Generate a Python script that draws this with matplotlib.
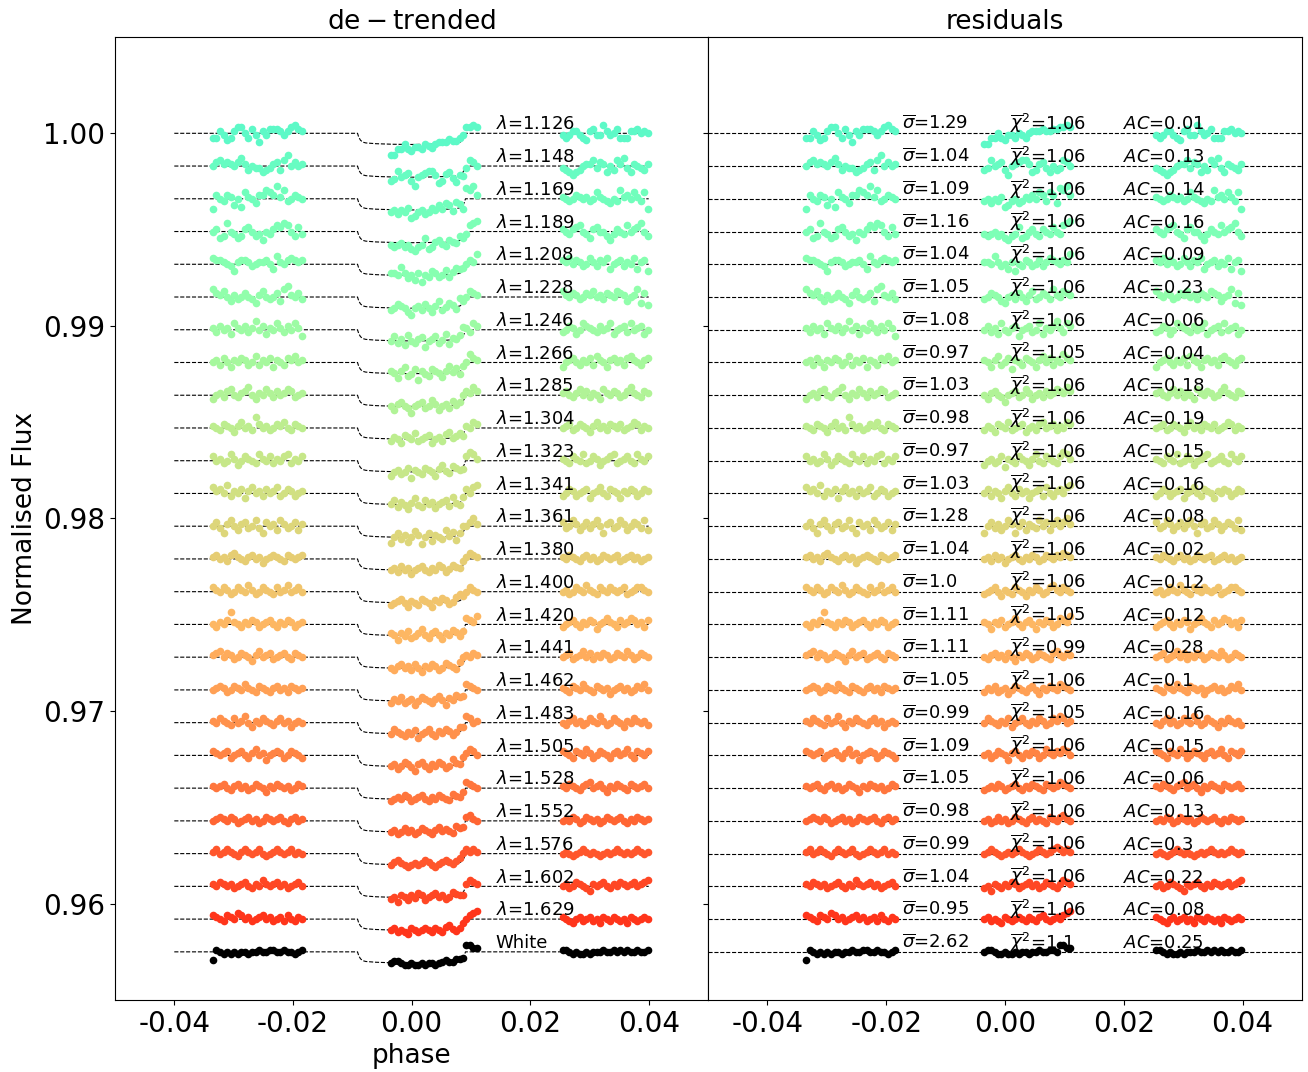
import numpy as np
import matplotlib.pyplot as plt

plt.rcParams['axes.unicode_minus'] = False

wavelengths = [1.126, 1.148, 1.169, 1.189, 1.208, 1.228, 1.246, 1.266, 1.285,
               1.304, 1.323, 1.341, 1.361, 1.380, 1.400, 1.420, 1.441, 1.462,
               1.483, 1.505, 1.528, 1.552, 1.576, 1.602, 1.629]
sigma_bar = [1.29, 1.04, 1.09, 1.16, 1.04, 1.05, 1.08, 0.97, 1.03, 0.98, 0.97, 1.03, 1.28,
             1.04, 1.0, 1.11, 1.11, 1.05, 0.99, 1.09, 1.05, 0.98, 0.99, 1.04, 0.95, 2.62]
chi2_bar = [1.06, 1.06, 1.06, 1.06, 1.06, 1.06, 1.06, 1.05, 1.06, 1.06, 1.06, 1.06, 1.06,
            1.06, 1.06, 1.05, 0.99, 1.06, 1.05, 1.06, 1.06, 1.06, 1.06, 1.06, 1.06, 1.1]
autocorr = [0.01, 0.13, 0.14, 0.16, 0.09, 0.23, 0.06, 0.04, 0.18, 0.19, 0.15, 0.16, 0.08,
            0.02, 0.12, 0.12, 0.28, 0.1, 0.16, 0.15, 0.06, 0.13, 0.3, 0.22, 0.08, 0.25]

# three HST orbits, regular cadence
orbit1 = np.linspace(-0.0335, -0.0185, 26)
orbit2 = np.linspace(-0.0035, 0.0110, 26)
orbit3 = np.linspace(0.0255, 0.0398, 26)
phase = np.concatenate([orbit1, orbit2, orbit3])

# transit model
model_phase = [-0.04, -0.0091, -0.0089, -0.0086, -0.0082, -0.0077, -0.006, -0.003, 0.0,
               0.003, 0.006, 0.0077, 0.0082, 0.0086, 0.0089, 0.0091, 0.04]
model_depth = [0, 0, 0.0002, 0.00036, 0.00046, 0.0005, 0.00054, 0.00057, 0.00058,
               0.00057, 0.00054, 0.0005, 0.00046, 0.00036, 0.0002, 0, 0]

RESID_UNIT = 1.1e-4
OFFSET = 0.0017

resid_rows = [
    [-2,-2,1,-1,-3,-2,1,3,3,0,-2,2,-1,-4,1,-1,2,2,2,1,-1,1,3,4,2,1,
     -5,-5,-2,-2,0,-2,-3,-1,-1,-2,0,-1,-2,0,1,1,1,2,1,1,2,2,3,3,4,3,
     -1,-2,-1,1,1,-1,-2,-3,1,2,-1,-1,4,1,-1,0,2,-2,-2,-2,1,1,2,0,1,0],
    [0,2,3,1,2,1,0,2,4,1,-2,0,-1,-1,-3,-2,-1,1,2,-2,3,5,0,2,0,1,
     -2,-1,3,0,1,2,-2,-4,0,1,2,3,3,1,-3,-2,1,2,-1,-3,0,-2,-1,3,2,0,
     -1,-2,-3,-4,-3,-2,0,1,1,3,-1,2,1,-3,0,-2,3,1,4,-1,-3,1,0,-1,-2,1],
    [-5,2,0,-1,2,1,-3,0,-4,3,1,0,-2,2,2,4,3,2,6,1,4,-1,0,2,1,0,
     -1,0,-2,0,-1,1,-4,-3,-1,0,-2,-1,1,0,2,0,3,2,-1,3,2,-2,5,4,6,2,
     1,0,-1,0,2,1,0,1,-1,0,3,1,0,-1,-2,0,-1,4,1,2,0,3,1,-1,3,-5],
    [0,1,-3,-2,4,0,-1,-3,-2,1,2,0,-2,-1,-4,0,-1,1,3,2,4,3,0,-2,2,-1,
     -1,-2,-1,0,-2,-1,-3,-4,-2,-1,2,-3,-2,0,1,-1,-2,1,0,-1,2,0,-1,3,4,5,
     1,0,-1,1,2,3,0,-1,-3,1,2,0,0,-2,-4,-1,1,0,-1,3,0,1,2,4,0,-2],
    [3,2,2,1,0,-1,-3,1,2,2,1,-1,0,1,1,2,0,-2,4,1,0,2,3,2,1,2,
     1,1,0,4,1,-1,0,-2,1,-3,0,-1,2,1,-1,0,2,-1,1,3,2,1,0,2,1,5,
     2,1,3,0,2,1,-1,0,3,1,-1,2,1,3,-2,0,1,2,-1,1,0,3,-2,1,2,-3],
    [4,2,1,3,0,-2,1,-1,0,2,0,-1,-3,1,3,0,-1,0,2,-2,4,5,1,0,2,-1,
     -1,0,2,1,0,-2,-3,0,1,-1,2,0,-2,1,3,-1,0,2,1,-1,4,1,0,3,2,1,
     3,1,0,2,1,-1,0,2,1,3,0,1,-1,2,1,0,3,2,1,-2,0,1,4,-3,2,-4],
    [1,-1,2,0,1,-2,3,1,0,2,-1,1,4,0,2,-2,1,0,3,1,-1,2,0,3,1,-3,
     0,2,-1,1,-2,3,0,-1,1,2,-3,0,1,2,-1,0,3,-2,1,0,2,4,1,-1,3,2,
     -1,0,2,1,-2,0,3,2,1,0,-1,2,0,1,3,-2,0,1,2,-1,3,0,1,2,-2,0],
    [0,1,-1,2,0,-2,1,0,2,1,-1,0,3,-1,1,0,2,-2,1,0,-1,2,1,3,0,1,
     1,0,-2,1,3,-1,0,2,-3,1,0,-1,2,1,0,-2,1,3,0,2,-1,1,0,4,2,1,
     -2,0,1,2,0,-1,1,0,2,-1,3,1,0,-2,1,2,0,1,-1,2,3,1,0,-1,1,2],
    [-2,0,1,-1,2,3,0,-1,1,2,4,0,-2,1,0,3,1,-1,2,0,1,3,2,-1,0,1,
     0,-2,1,2,0,-1,-3,0,1,2,-1,0,3,1,-2,0,1,-1,2,0,1,3,2,1,4,2,
     1,2,0,-1,1,3,0,2,-1,1,0,-2,3,1,0,2,1,-1,0,2,4,1,0,-1,2,1],
    [1,0,-1,2,1,0,-2,1,3,0,1,-1,5,2,0,1,-1,0,2,1,3,0,-1,2,1,0,
     -1,1,0,-2,2,1,0,3,-1,0,1,2,-2,0,1,-1,2,3,0,1,2,-1,1,0,3,2,
     0,1,2,-1,0,2,1,0,-2,1,3,0,1,-1,2,1,0,2,-1,0,1,3,2,-1,1,0],
    [2,0,1,-1,0,3,1,-2,0,2,1,0,-1,3,1,0,2,-1,1,0,2,3,-1,1,0,2,
     -2,0,1,-1,0,2,-3,1,0,-1,2,1,0,-2,1,3,0,-1,2,1,0,-1,2,4,3,1,
     1,0,-1,2,1,0,3,-1,0,2,1,-2,0,1,2,3,-1,0,1,2,0,-1,3,1,0,2],
    [3,1,2,0,4,-1,1,0,2,-2,1,3,0,1,-1,2,0,1,3,-1,0,2,1,-1,0,1,
     0,2,-1,1,0,-2,1,3,0,-1,2,0,1,-2,0,1,2,-1,3,0,-1,1,2,0,3,4,
     -1,0,2,1,-1,0,1,2,-2,0,1,3,0,-1,2,1,0,-2,1,0,2,1,-1,0,2,1],
    [0,2,-1,-3,1,3,0,-2,1,2,-1,0,3,-1,-3,2,0,1,-2,3,1,-1,0,2,-2,1,
     -3,0,2,-1,1,-2,0,3,1,-3,0,2,-2,1,0,-1,3,0,2,-2,1,3,0,2,4,1,
     2,-1,0,3,1,-2,0,2,-1,1,3,0,-3,1,2,-1,0,3,1,-2,0,2,1,-1,3,-2],
    [1,2,0,1,-1,2,3,1,0,-1,1,2,0,1,-2,0,1,2,1,0,-1,2,1,0,1,2,
     0,1,-1,2,0,1,-2,0,1,2,0,-1,1,0,2,1,-1,0,2,1,0,2,1,3,2,1,
     1,0,2,1,0,-1,1,2,0,1,-1,0,2,1,0,1,2,-1,0,1,2,0,1,-1,0,1],
    [2,1,0,2,1,-1,0,2,1,0,3,1,-1,0,2,1,0,-1,2,0,1,3,0,1,2,0,
     -1,0,1,2,0,-2,1,0,-1,2,1,0,-2,1,0,2,1,-1,0,2,3,1,0,2,1,0,
     0,1,-1,0,2,1,0,3,1,0,-1,2,1,0,2,1,0,1,2,-1,0,1,2,2,1,0],
    [0,-1,1,0,2,6,1,0,-1,1,0,2,1,-1,0,1,2,0,-1,1,0,2,1,-1,0,1,
     1,0,-2,1,0,2,-1,0,1,3,0,-1,1,2,0,-2,1,0,2,1,-1,0,3,2,1,4,
     -1,0,1,2,0,-1,1,0,2,1,-2,0,1,3,1,0,-1,2,0,1,3,2,0,1,-1,2],
    [1,2,3,0,2,1,-1,0,2,1,0,-2,1,3,0,1,2,-1,0,1,2,0,-1,2,1,0,
     0,-1,1,2,0,1,-1,2,0,-2,1,0,2,1,-1,0,2,1,0,-1,2,3,1,0,2,1,
     0,1,2,-1,0,1,3,0,2,-1,1,0,2,1,-1,0,2,1,0,3,1,-1,0,2,1,0],
    [0,1,2,1,-1,0,2,1,0,3,1,0,-1,2,1,0,-1,1,2,0,1,-1,2,1,0,1,
     -1,1,0,2,-1,0,1,-2,0,2,1,0,-1,1,2,0,-2,1,0,2,1,0,3,2,1,0,
     1,0,-1,2,1,0,3,1,0,-1,2,1,0,1,-2,0,1,2,0,1,-1,0,2,1,3,0],
    [1,0,2,1,0,-1,2,0,1,3,0,-2,1,0,2,1,0,-1,1,2,0,1,-2,0,1,0,
     0,2,1,0,-1,1,0,2,-2,0,1,2,0,-1,1,0,2,1,-1,0,2,1,3,2,0,1,
     0,-1,1,2,0,1,-1,0,2,1,0,3,1,-1,0,2,1,0,-2,1,0,2,1,0,1,-1],
    [2,1,0,1,2,-1,0,1,2,0,-1,1,3,0,1,-2,0,1,2,1,-1,0,2,1,0,-1,
     0,1,-1,0,2,1,0,-2,1,2,0,-1,1,0,2,1,-1,0,3,1,0,2,1,3,2,0,
     2,1,0,-1,2,1,0,3,1,-1,0,2,1,0,-1,1,2,0,1,3,0,-1,2,1,0,2],
    [1,0,1,2,0,-1,1,2,0,1,-1,0,2,1,0,-2,1,0,2,1,0,1,-1,0,2,1,
     -1,0,1,0,2,1,-1,0,1,2,0,-1,1,0,2,1,0,-1,2,1,0,1,3,2,1,0,
     1,0,2,1,0,-1,1,2,3,0,1,2,0,-2,1,0,2,1,0,-1,2,1,0,1,2,0],
    [0,1,2,1,0,2,1,-1,0,1,2,0,1,-1,0,2,1,0,1,2,0,-1,1,2,0,1,
     0,1,-1,0,2,0,1,-1,0,2,1,0,-1,1,2,0,1,0,-1,2,1,0,2,3,1,0,
     0,1,0,2,1,-1,0,2,1,0,1,-1,0,2,1,0,1,2,0,-1,1,0,2,1,0,1],
    [1,2,0,1,2,1,0,-1,1,2,1,0,1,2,0,-1,0,1,2,1,0,1,2,0,1,0,
     0,1,2,1,0,-1,0,1,0,1,2,1,0,-1,0,1,2,1,0,1,2,3,2,1,2,1,
     0,1,0,-1,0,1,2,1,0,1,0,-1,0,1,0,1,2,1,0,1,0,1,2,1,0,1],
    [1,0,2,1,0,1,-1,0,1,2,0,-1,1,0,3,1,0,1,2,0,1,-1,0,1,2,0,
     -1,0,-2,1,0,-1,1,0,2,1,-1,0,1,2,0,1,-1,0,2,1,0,-1,1,3,2,1,
     0,1,-1,0,2,1,0,-1,-2,1,0,1,2,0,-1,1,0,2,1,0,1,2,0,1,2,3],
    [2,1,0,-1,2,1,0,3,2,0,1,-1,0,1,2,0,1,-1,0,1,-1,2,0,-1,1,0,
     0,1,-1,0,-1,-2,1,0,-1,0,1,0,-1,1,0,-1,1,2,0,-1,0,1,0,2,3,4,
     1,0,-1,-2,0,1,-1,0,1,-1,0,-2,1,0,-1,1,0,-1,0,-2,1,0,-1,0,1,0],
    [-4,1,0,-1,0,-1,0,-1,0,0,-1,0,0,1,0,0,1,1,0,0,1,0,0,-1,0,1,
     0,1,1,0,-1,-1,0,-1,-1,0,-1,0,0,-1,0,0,1,0,0,1,1,0,3,3,2,2,
     1,1,0,-1,0,-1,-1,0,-1,0,0,0,1,0,0,1,0,1,0,1,0,0,1,0,0,1],
]

colours = list(plt.cm.rainbow(np.linspace(0.43, 0.93, len(wavelengths)))) + ['k']
labels = [r'$\lambda$=%.3f' % w for w in wavelengths] + ['White']

fig = plt.figure(figsize=(13.08, 10.72), dpi=100)
ax1 = fig.add_axes([115/1308, 72/1072, 593/1308, 963/1072])
ax2 = fig.add_axes([708/1308, 72/1072, 594/1308, 963/1072], sharey=ax1)

model_at_data = np.interp(phase, model_phase, model_depth)

for i in range(len(resid_rows)):
    level = 1.0 - i * OFFSET
    r = np.array(resid_rows[i]) * RESID_UNIT

    # de-trended light curve with model
    ax1.plot(model_phase, level - np.array(model_depth), 'k--', lw=0.8, zorder=1)
    ax1.plot(phase, level - model_at_data + r, 'o', color=colours[i], ms=5.5, mec='none', zorder=2)
    ax1.text(0.0142, level + 0.0002, labels[i], fontsize=13)

    # residuals
    ax2.axhline(level, color='k', ls='--', lw=0.8, zorder=1)
    ax2.plot(phase, level + r, 'o', color=colours[i], ms=5.5, mec='none', zorder=2)
    ax2.text(-0.0173, level + 0.0002, r'$\overline{\sigma}$=' + str(sigma_bar[i]), fontsize=13)
    ax2.text(0.0008, level + 0.0002, r'$\overline{\chi}^2$=' + str(chi2_bar[i]), fontsize=13)
    ax2.text(0.0199, level + 0.0002, r'$AC$=' + str(autocorr[i]), fontsize=13)

for ax in (ax1, ax2):
    ax.set_xlim(-0.05, 0.05)
    ax.set_xticks([-0.04, -0.02, 0.0, 0.02, 0.04])
    ax.tick_params(labelsize=20)

ax1.set_ylim(0.955, 1.005)
ax1.set_yticks([0.96, 0.97, 0.98, 0.99, 1.00])
plt.setp(ax2.get_yticklabels(), visible=False)

ax1.set_title(r'$\rm{de-trended}$', fontsize=19)
ax2.set_title('residuals', fontsize=19)
ax1.set_xlabel('phase', fontsize=19)
ax1.set_ylabel('Normalised Flux', fontsize=19)

fig.savefig('out.png', dpi=100)
